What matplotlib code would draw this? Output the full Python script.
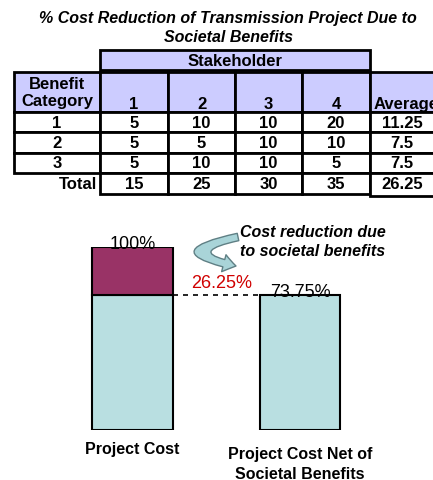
import numpy as np
import matplotlib
matplotlib.use("Agg")
from matplotlib import pyplot as plt
from matplotlib.patches import Rectangle, FancyArrowPatch
from matplotlib.path import Path

plt.rcParams['font.family'] = ['Liberation Sans', 'DejaVu Sans']

# datos de la tabla
titulo = "% Cost Reduction of Transmission Project Due to\nSocietal Benefits"
stakeholders = ["1", "2", "3", "4"]
categorias = ["1", "2", "3"]
valores = [[5, 10, 10, 20],
           [5, 5, 10, 10],
           [5, 10, 10, 5]]
promedios = ["11.25", "7.5", "7.5"]
totales = [15, 25, 30, 35]
total_promedio = "26.25"

# datos de las barras
barras = ["Project Cost", "Project Cost Net of\nSocietal Benefits"]
costo_neto = [73.75, 73.75]
reduccion = [26.25, 0]
etiquetas = ["100%", "73.75%"]

lavanda = "#CCCCFF"
granate = "#993366"
turquesa = "#B9DFE1"

fig = plt.figure(figsize=(4.33, 4.81), dpi=100)

# eje de fondo en pixeles para la tabla
bg = fig.add_axes([0, 0, 1, 1])
bg.set_xlim(0, 433)
bg.set_ylim(481, 0)
bg.axis("off")

bg.text(228, 28, titulo, ha="center", va="center", fontsize=11.5,
        fontweight="bold", fontstyle="italic", linespacing=1.25)

lw = 2
fs = 12
cols = [100, 168, 235, 302, 370]
# encabezado Stakeholder
bg.add_patch(Rectangle((100, 51), 270, 20, facecolor=lavanda, edgecolor="black", lw=lw))
bg.text(235, 61, "Stakeholder", ha="center", va="center", fontsize=fs, fontweight="bold")

# fila de encabezados
bg.add_patch(Rectangle((14, 73), 86, 40, facecolor=lavanda, edgecolor="black", lw=lw))
for i in range(4):
    bg.add_patch(Rectangle((cols[i], 73), cols[i + 1] - cols[i], 40,
                           facecolor=lavanda, edgecolor="black", lw=lw))
    bg.text((cols[i] + cols[i + 1]) / 2, 109, stakeholders[i], ha="center",
            va="baseline", fontsize=fs, fontweight="bold")
bg.add_patch(Rectangle((370, 73), 80, 40, facecolor=lavanda, edgecolor="black", lw=lw))
bg.text(57, 93, "Benefit\nCategory", ha="center", va="center", fontsize=fs,
        fontweight="bold", linespacing=1.2)
bg.text(374, 109, "Average", ha="left", va="baseline", fontsize=fs, fontweight="bold")

# filas de datos
filas = [113, 133, 154, 174]
for r in range(3):
    y0, y1 = filas[r], filas[r + 1]
    yc = (y0 + y1) / 2
    bg.add_patch(Rectangle((14, y0), 86, y1 - y0, facecolor="white", edgecolor="black", lw=lw))
    bg.text(57, yc, categorias[r], ha="center", va="center", fontsize=fs, fontweight="bold")
    for i in range(4):
        bg.add_patch(Rectangle((cols[i], y0), cols[i + 1] - cols[i], y1 - y0,
                               facecolor="white", edgecolor="black", lw=lw))
        bg.text((cols[i] + cols[i + 1]) / 2, yc, str(valores[r][i]), ha="center",
                va="center", fontsize=fs, fontweight="bold")
    bg.add_patch(Rectangle((370, y0), 80, y1 - y0, facecolor="white", edgecolor="black", lw=lw))
    bg.text(402, yc, promedios[r], ha="center", va="center", fontsize=fs, fontweight="bold")

# fila total
y0, y1 = 174, 195
yc = (y0 + y1) / 2
bg.text(97, yc, "Total", ha="right", va="center", fontsize=fs, fontweight="bold")
for i in range(4):
    bg.add_patch(Rectangle((cols[i], y0), cols[i + 1] - cols[i], y1 - y0,
                           facecolor="white", edgecolor="black", lw=lw))
    bg.text((cols[i] + cols[i + 1]) / 2, yc, str(totales[i]), ha="center",
            va="center", fontsize=fs, fontweight="bold")
bg.add_patch(Rectangle((370, y0), 80, y1 - y0 + 2, facecolor="white", edgecolor="black", lw=lw))
bg.text(402, yc, total_promedio, ha="center", va="center", fontsize=fs, fontweight="bold")

# eje de las barras: y=0 en pixel 431, y=100 en pixel 248
ax = fig.add_axes([60 / 433, (481 - 431) / 481, 340 / 433, 183 / 481])
ax.set_xlim(-0.433, 1.597)
ax.set_ylim(0, 100)
ax.axis("off")
x = np.arange(len(barras))
ancho = 0.48
ax.bar(x, costo_neto, ancho, color=turquesa, edgecolor="black", lw=1.5)
ax.bar(x[:1], reduccion[:1], ancho, bottom=costo_neto[:1], color=granate,
       edgecolor="black", lw=1.5)
ax.plot([x[0] + ancho / 2, x[1] - ancho / 2], [costo_neto[0], costo_neto[0]],
        color="black", ls="--", lw=1.2, dashes=(3, 3))

ax.text(x[0], costo_neto[0] + reduccion[0] - 0.8, etiquetas[0], ha="center",
        va="baseline", fontsize=13)
ax.text(x[1], costo_neto[1] - 0.5, etiquetas[1], ha="center", va="baseline", fontsize=13)
ax.text(0.53, costo_neto[0] + 4.5, f"{reduccion[0]}%",
        ha="center", va="baseline", fontsize=13, color="#D00000")
ax.text(x[0], -6, barras[0], ha="center", va="top", fontsize=11.5,
        fontweight="bold", clip_on=False)
ax.text(x[1], -8.5, barras[1], ha="center", va="top", fontsize=11.5,
        fontweight="bold", linespacing=1.45, clip_on=False)

# anotacion con flecha curva
bg.text(240, 242, "Cost reduction due\nto societal benefits", ha="left",
        va="center", fontsize=11.5, fontweight="bold", fontstyle="italic",
        linespacing=1.3)
ruta = Path([(238, 238), (168, 253), (236, 267)],
            [Path.MOVETO, Path.CURVE3, Path.CURVE3])
flecha = FancyArrowPatch(path=ruta, arrowstyle="simple,head_length=1.0,head_width=1.4,tail_width=0.6",
                         mutation_scale=9, facecolor="#A9D4D8", edgecolor="#5F7F84", lw=1)
bg.add_patch(flecha)

fig.savefig("out.png", dpi=100)
